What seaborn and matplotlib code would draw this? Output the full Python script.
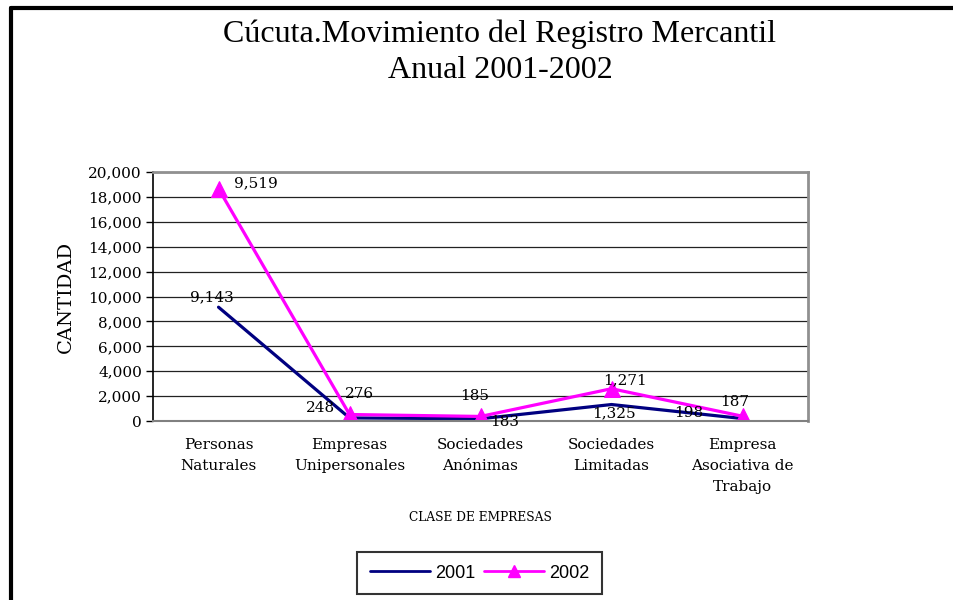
import matplotlib
matplotlib.use("Agg")
import matplotlib.pyplot as plt
import matplotlib.ticker as mticker
from matplotlib.lines import Line2D
import numpy as np
import pandas as pd
import seaborn as sns

categories = ["Personas\nNaturales", "Empresas\nUnipersonales", "Sociedades\nAnónimas",
              "Sociedades\nLimitadas", "Empresa\nAsociativa de\nTrabajo"]
values_2001 = [9143, 248, 183, 1325, 198]
values_2002 = [9519, 276, 185, 1271, 187]
yticks = list(range(0, 20001, 2000))

# stacked line chart (Excel style)
stack_2001 = np.array(values_2001)
stack_2002 = stack_2001 + np.array(values_2002)

pos = list(range(len(categories)))
df1 = pd.DataFrame({"pos": pos, "valor": stack_2001})
df2 = pd.DataFrame({"pos": pos, "valor": stack_2002})

sns.set_theme(style="white")
plt.rcParams['font.family'] = ['DejaVu Serif']
plt.rcParams.update({"text.color": "black", "axes.labelcolor": "black",
                     "xtick.color": "black", "ytick.color": "black"})

fig = plt.figure(figsize=(9.54, 6), dpi=100)
ax = fig.add_axes([0.1604, 0.2983, 0.6866, 0.415])

sns.lineplot(data=df1, x="pos", y="valor", color="#000080", linewidth=2.3, ax=ax)
sns.lineplot(data=df2, x="pos", y="valor", color="#FF00FF", linewidth=2.3,
             marker="^", markersize=11, markeredgecolor="#FF00FF", ax=ax)

ax.set_xlim(-0.5, len(categories) - 0.5)
ax.set_ylim(0, 20000)
ax.set_yticks(yticks)
ax.yaxis.set_major_formatter(mticker.FuncFormatter(lambda v, p: f"{int(v):,}"))
ax.set_xticks(range(len(categories)))
ax.set_xticklabels(categories, fontsize=11, linespacing=1.65)
ax.set_xticks(np.arange(-0.5, len(categories), 1), minor=True)
ax.tick_params(axis="x", which="major", length=0, pad=12)
ax.tick_params(axis="x", which="minor", length=5, color="#808080", width=1.2)
ax.tick_params(axis="y", which="major", length=5, color="black", width=1, labelsize=11, pad=3, left=True)
ax.yaxis.grid(True, color="#222222", linewidth=0.9)
ax.set_axisbelow(True)
for s in ["top", "right"]:
    ax.spines[s].set_color("#909090")
    ax.spines[s].set_linewidth(2)
ax.spines["left"].set_color("black")
ax.spines["left"].set_linewidth(1.2)
ax.spines["bottom"].set_color("#808080")
ax.spines["bottom"].set_linewidth(1.5)

ax.set_ylabel("CANTIDAD", fontsize=14, labelpad=10)
ax.set_xlabel("CLASE DE EMPRESAS", fontsize=8.8, labelpad=12)

# data labels: (dx, dy) in points, label centered
lab1_off = [(-5, 7), (-21, 7), (17, -2), (2, -6), (-39, 4)]
lab2_off = [(27, 4), (7, 15), (-4, 15), (10, 6), (-6, 10)]
for i, v in enumerate(values_2001):
    dx, dy = lab1_off[i]
    ax.annotate(f"{v:,}", (i, stack_2001[i]), xytext=(dx, dy), textcoords="offset points",
                ha="center", va="center", fontsize=11)
for i, v in enumerate(values_2002):
    dx, dy = lab2_off[i]
    ax.annotate(f"{v:,}", (i, stack_2002[i]), xytext=(dx, dy), textcoords="offset points",
                ha="center", va="center", fontsize=11)

fig.text(0.524, 0.943, "Cúcuta.Movimiento del Registro Mercantil",
         ha="center", va="center", fontsize=23, family=["Liberation Serif"])
fig.text(0.524, 0.883, "Anual 2001-2002",
         ha="center", va="center", fontsize=23, family=["Liberation Serif"])

handles = [Line2D([], [], color="#000080", linewidth=2),
           Line2D([], [], color="#FF00FF", linewidth=2, marker="^", markersize=9)]
leg = fig.legend(handles, ["2001", "2002"], loc="center", bbox_to_anchor=(0.503, 0.045),
                 ncol=2, frameon=True, fancybox=False, edgecolor="black",
                 prop={"family": "Liberation Sans", "size": 13},
                 handlelength=3.3, columnspacing=0.5, handletextpad=0.3,
                 borderpad=0.7, borderaxespad=0)
leg.get_frame().set_linewidth(1.5)

# figure frame (left and top edges visible)
fig.add_artist(Line2D([0.0115, 0.0115], [0, 0.986], color="black", linewidth=3, transform=fig.transFigure))
fig.add_artist(Line2D([0.0115, 1.0], [0.986, 0.986], color="black", linewidth=3, transform=fig.transFigure))

fig.savefig("out.png", dpi=100)
